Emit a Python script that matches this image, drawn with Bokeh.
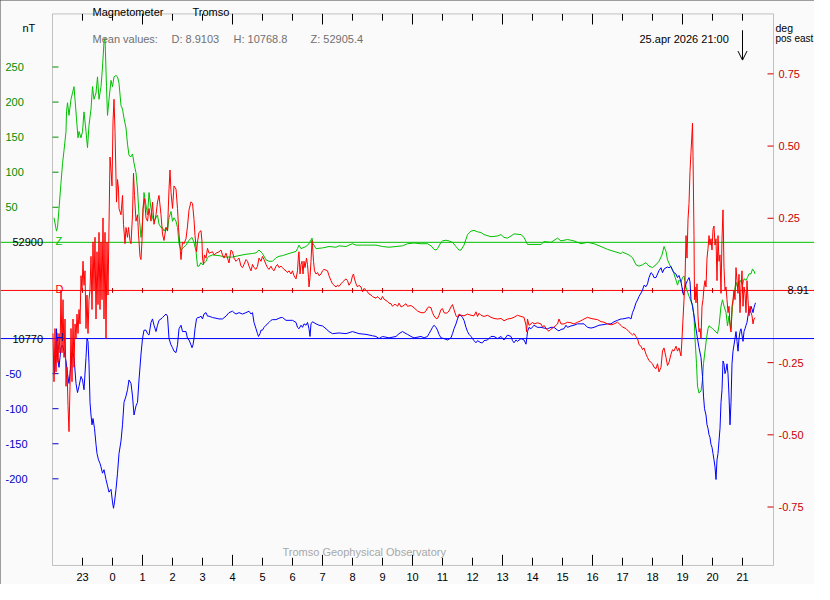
from bokeh.plotting import figure
from bokeh.models import Range1d, Span, Label, Arrow, OpenHead, BoxAnnotation
from bokeh.embed import file_html
from bokeh.resources import INLINE

# ---------------- data (time = minutes after 2026-04-24 22:00 UT) ----------------
z_t = [3, 8, 10, 13, 17, 20, 23, 27, 28, 30,
       33, 37, 40, 43, 45, 48, 51, 53, 57, 60,
       63, 67, 70, 73, 77, 80, 83, 87, 90, 93,
       97, 100, 103, 105, 108, 110, 113, 117, 120, 123,
       127, 130, 133, 137, 140, 143, 147, 150, 153, 157,
       160, 163, 167, 170, 173, 177, 180, 183, 187, 190,
       193, 197, 200, 203, 207, 210, 213, 217, 220, 223,
       227, 230, 233, 237, 240, 243, 247, 250, 253, 257,
       260, 267, 273, 279, 283, 287, 290, 293, 297, 300,
       307, 310, 313, 320, 333, 347, 360, 373, 387, 400,
       407, 413, 420, 427, 433, 440, 447, 453, 460, 473,
       487, 490, 493, 497, 507, 513, 519, 521, 527, 540,
       553, 567, 573, 587, 593, 600, 607, 620, 633, 647,
       660, 673, 687, 700,
       710, 723, 737, 750, 757, 763, 767, 770, 777, 780,
       787, 793, 800, 807, 813, 817, 823, 830, 837, 843,
       850, 857, 863, 877, 890, 897, 903, 910, 917, 923,
       937, 943, 950, 963, 977, 983, 997, 1010, 1017, 1030,
       1043, 1057, 1070, 1083, 1097, 1110, 1123, 1137,
       1140, 1153, 1160, 1167, 1173, 1180, 1187, 1193, 1200, 1207,
       1213, 1219, 1223, 1227, 1230, 1237, 1240, 1243, 1247, 1250,
       1253, 1257, 1260, 1263, 1267, 1273, 1280, 1283, 1285, 1288,
       1290, 1293, 1297, 1300, 1302, 1305, 1308, 1311, 1313, 1320,
       1327, 1330, 1333, 1337, 1340, 1343, 1347, 1350, 1353, 1357,
       1360, 1363, 1367, 1370, 1373, 1377, 1380, 1383, 1387, 1390,
       1393, 1397, 1400, 1403, 1405]
z_nT = [52935, 52916, 52921, 52948, 52985, 53012, 53031, 53058, 53086, 53099,
        53081, 53104, 53113, 53122, 53104, 53076, 53049, 53058, 53049, 53058,
        53086, 53058, 53035, 53067, 53090, 53122, 53104, 53113, 53136, 53104,
        53122, 53150, 53186, 53191, 53122, 53081, 53104, 53131, 53122, 53136,
        53138, 53136, 53127, 53095, 53090, 53077, 53063, 53040, 53024, 53022,
        53026, 53013, 52999, 52976, 52939, 52907, 52930, 52971, 52953, 52939,
        52971, 52948, 52935, 52930, 52935, 52939, 52926, 52921, 52921, 52916,
        52921, 52916, 52935, 52944, 52930, 52935, 52930, 52921, 52898, 52889,
        52891, 52896, 52903, 52907, 52900, 52887, 52866, 52866, 52871, 52868,
        52873, 52878, 52880, 52882, 52881, 52879, 52879, 52881, 52883, 52884,
        52885, 52889, 52884, 52875, 52873, 52873, 52878, 52880, 52881, 52884,
        52887, 52891, 52896, 52891, 52894, 52898, 52906, 52898, 52891, 52892,
        52894, 52893, 52895, 52894, 52896, 52898, 52896, 52896, 52896, 52896,
        52894, 52893, 52894, 52895,
        52898, 52899, 52898, 52898, 52895, 52890, 52889, 52891, 52900, 52902,
        52903, 52902, 52900, 52894, 52889, 52889, 52896, 52911, 52916, 52917,
        52915, 52914, 52911, 52908, 52909, 52911, 52907, 52906, 52909, 52912,
        52911, 52907, 52897, 52897, 52897, 52901, 52900, 52906, 52902, 52904,
        52902, 52898, 52900, 52898, 52894, 52890, 52887, 52884,
        52886, 52882, 52878, 52868, 52866, 52868, 52871, 52866, 52864, 52868,
        52873, 52882, 52894, 52887, 52875, 52864, 52862, 52855, 52846, 52839,
        52846, 52843, 52850, 52852, 52836, 52823, 52811, 52795, 52763, 52727,
        52695, 52685, 52688, 52704, 52727, 52745, 52763, 52777, 52781, 52777,
        52772, 52770, 52781, 52809, 52818, 52809, 52800, 52781, 52795, 52777,
        52809, 52827, 52843, 52836, 52841, 52846, 52839, 52848, 52846, 52850,
        52855, 52855, 52862, 52859, 52855]

d_t = [1, 3, 5, 7, 9, 11, 13, 15, 17, 19,
       21, 23, 25, 27, 29, 31, 33, 35, 37, 39,
       41, 43, 45, 47, 49, 51, 53, 55, 57, 59,
       61, 63, 65, 67, 69, 71, 73, 75, 77, 79,
       81, 83, 85, 87, 89, 91, 93, 95, 97, 99,
       101, 103, 105, 107, 109, 111,
       115, 117, 119, 121, 123, 125, 128, 130, 132, 133,
       137, 140, 142, 145, 147, 150, 152, 155, 157, 160,
       162, 164, 167, 170, 172, 175, 177, 179, 181, 184,
       187, 190, 193, 197, 200, 203, 207, 210, 213, 217,
       220, 223, 227, 230, 233, 235, 237, 240, 243, 247,
       250, 252, 255, 257,
       260, 263, 267, 270, 273, 277, 280, 283, 285, 288,
       290, 293, 297, 299, 300, 302, 304, 307, 310, 313,
       320, 323, 327, 333, 337, 340, 343, 347, 350, 353,
       357, 360, 363, 367, 370, 373, 377, 380, 383, 387,
       390, 393, 397, 400, 403, 407, 410, 413, 417, 420,
       423, 427, 430, 433, 437, 440, 443, 447, 450, 453,
       457, 460, 463, 467, 470, 473, 477, 480, 483, 487,
       490, 492, 493, 495, 497, 499, 501, 503, 505, 508,
       510, 512, 513, 515, 517, 519, 520, 522, 524, 527,
       530, 533, 537, 540, 543, 550, 553, 557, 560, 563,
       567, 570, 573, 577, 580, 583, 587, 590, 593, 597,
       600, 602, 604, 607, 610, 613, 617, 620, 623, 627,
       630, 633, 637, 640, 647, 650, 653, 657, 660, 663,
       667, 670, 673, 677, 680, 683, 687, 690, 693, 697,
       700, 707,
       710, 717, 723, 730, 737, 743, 747, 750, 753, 757,
       760, 763, 767, 770, 773, 777, 780, 783, 787, 790,
       793, 797, 800, 803, 807, 810, 813, 817, 823, 830,
       837, 843, 847, 850, 853, 857, 863, 870, 877, 883,
       890, 897, 903, 910, 917, 923, 930, 937, 943, 947,
       948, 950, 953, 957, 960, 963, 970, 977, 980, 983,
       990, 993, 997, 1003, 1010, 1013, 1017, 1023, 1030, 1037,
       1043, 1050, 1057, 1063, 1070, 1077, 1083, 1090, 1097, 1103,
       1110, 1117, 1123, 1130, 1137,
       1140, 1147, 1153, 1160, 1163, 1167, 1170, 1173, 1177, 1180,
       1183, 1187, 1190, 1193, 1197, 1200, 1203, 1207, 1210, 1213,
       1217, 1220, 1223, 1227, 1230, 1233, 1237, 1240, 1243, 1247,
       1250, 1253, 1257, 1259, 1261, 1263, 1265, 1267, 1269, 1271,
       1273, 1275, 1277, 1279, 1280, 1281, 1283, 1284, 1285, 1287,
       1289, 1291, 1293, 1295, 1297, 1299, 1301, 1303, 1305, 1307,
       1309, 1311, 1313, 1315, 1317, 1319, 1321, 1323, 1325, 1327,
       1329, 1331, 1333, 1335, 1337, 1339, 1341, 1343, 1345, 1347,
       1349, 1351, 1353, 1355, 1357, 1359, 1361, 1363, 1365, 1367,
       1369, 1371, 1373, 1375, 1377, 1379, 1381, 1383, 1385, 1387,
       1389, 1391, 1393, 1395, 1397, 1399, 1401, 1403, 1405]
d_deg = [8.761, 8.594, 8.778, 8.628, 8.744, 8.661, 8.761, 8.694, 8.911, 8.694,
         8.878, 8.678, 8.811, 8.578, 8.644, 8.511, 8.421, 8.578, 8.778, 8.594,
         8.811, 8.644, 8.794, 8.744, 8.828, 8.761, 8.844, 8.794, 8.961, 8.911,
         9.011, 8.928, 8.978, 8.778, 8.894, 8.761, 8.878, 8.911, 9.028, 8.844,
         9.078, 8.911, 9.094, 8.811, 9.044, 8.861, 9.111, 8.844, 9.078, 8.878,
         9.161, 8.811, 9.111, 8.744, 9.078, 8.894,
         9.372, 9.327, 9.272, 9.494, 9.572, 9.461, 9.216, 9.294, 9.261, 9.194,
         9.172, 9.239, 9.139, 9.072, 9.128, 9.094, 9.128, 9.083, 9.072, 9.172,
         9.316, 9.239, 9.150, 9.172, 9.105, 9.028, 9.017, 9.083, 9.194, 9.228,
         9.161, 9.150, 9.194, 9.150, 9.216, 9.139, 9.172, 9.216, 9.239, 9.172,
         9.105, 9.083, 9.128, 9.117, 9.261, 9.327, 9.250, 9.194, 9.272, 9.261,
         9.194, 9.128, 9.061, 9.017,
         9.078, 9.072, 9.089, 9.133, 9.189, 9.217, 9.211, 9.156, 9.100, 9.044,
         9.078, 9.111, 9.117, 9.078, 9.022, 9.000, 9.033, 9.022, 9.056, 9.039,
         9.044, 9.033, 9.039, 9.044, 9.050, 9.033, 9.022, 9.039, 9.022, 9.005,
         9.050, 9.044, 9.022, 9.011, 9.017, 9.022, 8.994, 8.989, 9.000, 9.017,
         9.011, 8.994, 8.978, 9.000, 8.989, 8.983, 8.994, 9.022, 9.011, 9.028,
         9.017, 9.000, 8.989, 8.983, 8.994, 8.983, 8.978, 8.994, 9.000, 8.989,
         8.994, 8.989, 8.983, 8.978, 8.972, 8.978, 8.967, 8.978, 8.961, 8.950,
         8.978, 9.033, 9.044, 8.967, 9.000, 9.011, 8.967, 9.011, 8.989, 9.022,
         9.000, 8.955, 8.922, 8.955, 9.011, 9.083, 9.067, 9.011, 8.978, 8.967,
         8.972, 8.961, 8.967, 8.978, 8.983, 8.978, 8.961, 8.944, 8.933, 8.928,
         8.922, 8.928, 8.924, 8.933, 8.939, 8.944, 8.950, 8.944, 8.928, 8.939,
         8.961, 8.967, 8.950, 8.933, 8.922, 8.928, 8.922, 8.905, 8.917, 8.911,
         8.905, 8.898, 8.894, 8.889, 8.883, 8.889, 8.883, 8.878, 8.889, 8.880,
         8.875, 8.872, 8.866, 8.864, 8.855, 8.861, 8.861, 8.855, 8.866, 8.853,
         8.855, 8.864,
         8.855, 8.858, 8.850, 8.839, 8.833, 8.833, 8.839, 8.850, 8.853, 8.850,
         8.833, 8.822, 8.813, 8.813, 8.824, 8.844, 8.847, 8.833, 8.831, 8.833,
         8.839, 8.853, 8.861, 8.844, 8.822, 8.817, 8.828, 8.824, 8.822, 8.828,
         8.824, 8.822, 8.836, 8.820, 8.831, 8.824, 8.820, 8.824, 8.817, 8.813,
         8.811, 8.813, 8.805, 8.811, 8.813, 8.817, 8.824, 8.820, 8.817, 8.789,
         8.767, 8.811, 8.789, 8.794, 8.800, 8.794, 8.798, 8.794, 8.783, 8.789,
         8.772, 8.769, 8.776, 8.783, 8.794, 8.811, 8.794, 8.794, 8.800, 8.798,
         8.794, 8.800, 8.805, 8.811, 8.817, 8.813, 8.811, 8.809, 8.802, 8.800,
         8.794, 8.791, 8.794, 8.800, 8.789,
         8.783, 8.778, 8.767, 8.756, 8.761, 8.750, 8.744, 8.722, 8.717, 8.705,
         8.711, 8.689, 8.678, 8.667, 8.661, 8.656, 8.644, 8.639, 8.656, 8.628,
         8.644, 8.700, 8.711, 8.678, 8.650, 8.661, 8.689, 8.705, 8.700, 8.717,
         8.700, 8.711, 8.683, 8.744, 8.811, 8.878, 8.944, 9.100, 9.022, 9.155,
         9.211, 9.322, 9.389, 9.455, 9.489, 9.378, 9.100, 8.878, 8.922, 8.867,
         8.933, 8.822, 8.766, 8.778, 8.744, 8.855, 8.878, 8.922, 8.944, 8.922,
         9.022, 9.055, 9.100, 9.067, 9.089, 9.050, 9.122, 9.133, 9.067, 9.089,
         8.944, 9.100, 9.011, 9.033, 8.900, 9.089, 9.189, 8.989, 8.911, 8.922,
         8.878, 8.833, 8.855, 8.789, 8.766, 8.855, 8.878, 8.911, 8.878, 8.989,
         8.944, 8.900, 8.966, 8.833, 8.922, 8.978, 8.855, 8.922, 8.900, 8.833,
         8.944, 8.878, 8.822, 8.855, 8.833, 8.822, 8.794, 8.811, 8.816]

h_t = [2, 4, 7, 8, 10, 13, 17, 20, 23, 27,
       30, 33, 37, 40, 43, 47, 50, 53, 57, 60,
       63, 67, 69, 71, 73, 75, 77, 79, 81, 84,
       87, 89, 92, 95, 97, 100, 103, 107, 110, 113,
       117, 120, 122, 124, 127, 130, 133, 137, 140, 143,
       147, 150, 153, 157, 160, 163, 167, 170, 173, 177,
       180, 183, 187, 190, 193, 197, 200, 203, 207, 210,
       213, 217, 220, 227, 230, 233, 237, 240, 243, 247,
       250, 253, 257,
       260, 267, 270, 273, 277, 279, 281, 283, 285, 288,
       290, 293, 297, 300, 303, 307, 310, 313, 320, 327,
       333, 340, 347, 353, 360, 363, 367, 373, 380, 387,
       393, 397, 400, 403, 407, 410, 412, 415, 417, 420,
       423, 427, 433, 437, 440, 447, 453, 457, 460, 467,
       473, 480, 487, 490, 493, 497, 500, 503, 507, 510,
       513, 515, 517, 520, 527, 533, 540, 547, 553, 560,
       573, 587, 600, 613, 627, 640, 647, 653, 660, 673,
       687, 693, 700, 707,
       710, 717, 723, 737, 743, 750, 753, 757, 760, 763,
       767, 770, 773, 777, 783, 790, 797, 800, 803, 807,
       810, 813, 817, 820, 823, 827, 830, 833, 837, 843,
       847, 850, 857, 860, 863, 870, 877, 883, 890, 897,
       903, 910, 917, 920, 923, 927, 930, 937, 943, 947,
       949, 950, 953, 957, 963, 970, 977, 983, 990, 997,
       1003, 1010, 1013, 1017, 1023, 1027, 1030, 1037, 1043, 1050,
       1063, 1070, 1077, 1083, 1093, 1103, 1110, 1117, 1123, 1130,
       1137,
       1140, 1147, 1153, 1157, 1160, 1163, 1167, 1170, 1173, 1177,
       1180, 1183, 1187, 1190, 1193, 1197, 1200, 1203, 1207, 1210,
       1213, 1217, 1220, 1223, 1227, 1230, 1233, 1237, 1240, 1243,
       1247, 1250, 1253, 1257, 1260, 1262, 1264, 1267, 1270, 1273,
       1275, 1277, 1280, 1282, 1284, 1287, 1290, 1293, 1297, 1300,
       1302, 1304, 1307, 1309, 1311, 1313, 1315, 1317, 1319, 1321,
       1323, 1325, 1327, 1329, 1331, 1333, 1335, 1337, 1339, 1341,
       1343, 1345, 1347, 1349, 1351, 1353, 1355, 1357, 1359, 1361,
       1363, 1365, 1367, 1369, 1371, 1373, 1375, 1377, 1379, 1381,
       1383, 1385, 1387, 1389, 1391, 1393, 1395, 1397, 1399, 1401,
       1403, 1405, 1406]
h_nT = [10743, 10720, 10752, 10784, 10743, 10729, 10757, 10761, 10752, 10738,
        10720, 10706, 10734, 10752, 10743, 10706, 10693, 10702, 10716, 10711,
        10697, 10743, 10770, 10766, 10734, 10679, 10661, 10647, 10656, 10642,
        10619, 10606, 10597, 10592, 10587, 10578, 10583, 10569, 10560, 10551,
        10555, 10537, 10528, 10537, 10555, 10578, 10606, 10624, 10647, 10679,
        10688, 10697, 10711, 10706, 10688, 10661, 10674, 10679, 10711, 10748,
        10770, 10782, 10782, 10777, 10775, 10793, 10798, 10789, 10780, 10789,
        10796, 10798, 10800, 10805, 10802, 10770, 10761, 10757, 10752, 10750,
        10761, 10784, 10789,
        10780, 10780, 10770, 10768, 10761, 10757, 10761, 10770, 10784, 10798,
        10800, 10800, 10802, 10798, 10805, 10807, 10802, 10802, 10800, 10799,
        10798, 10798, 10802, 10807, 10809, 10807, 10805, 10807, 10805, 10807,
        10809, 10805, 10807, 10793, 10784, 10777, 10773, 10777, 10782, 10782,
        10786, 10789, 10793, 10796, 10797, 10797, 10799, 10800, 10800, 10796,
        10796, 10796, 10793, 10786, 10784, 10789, 10786, 10791, 10789, 10793,
        10784, 10773, 10791, 10794, 10791, 10789, 10788, 10784, 10780, 10777,
        10778, 10777, 10780, 10777, 10776, 10774, 10773, 10770, 10773, 10771,
        10773, 10777, 10780, 10777,
        10776, 10773, 10771, 10773, 10771, 10773, 10777, 10782, 10786, 10789,
        10786, 10782, 10776, 10771, 10770, 10768, 10771, 10777, 10784, 10791,
        10798, 10803, 10803, 10800, 10796, 10786, 10780, 10776, 10773, 10767,
        10764, 10767, 10764, 10764, 10767, 10768, 10773, 10773, 10770, 10773,
        10768, 10775, 10773, 10767, 10764, 10768, 10766, 10770, 10768, 10762,
        10773, 10780, 10786, 10784, 10789, 10786, 10786, 10785, 10784, 10786,
        10786, 10782, 10781, 10783, 10784, 10789, 10786, 10788, 10789, 10791,
        10791, 10786, 10785, 10786, 10789, 10790, 10791, 10791, 10794, 10796,
        10798,
        10798, 10799, 10800, 10798, 10807, 10812, 10821, 10825, 10830, 10835,
        10839, 10846, 10844, 10848, 10857, 10864, 10862, 10857, 10857, 10862,
        10867, 10871, 10864, 10869, 10871, 10872, 10871, 10873, 10867, 10864,
        10862, 10857, 10860, 10851, 10839, 10832, 10839, 10848, 10853, 10857,
        10851, 10825, 10816, 10807, 10798, 10784, 10770, 10757, 10743, 10716,
        10688, 10670, 10661, 10647, 10642, 10633, 10629, 10619, 10615, 10606,
        10597, 10587, 10569, 10597, 10606, 10624, 10642, 10679, 10697, 10738,
        10734, 10720, 10725, 10734, 10720, 10688, 10647, 10679, 10734, 10752,
        10761, 10770, 10780, 10766, 10752, 10770, 10780, 10784, 10775, 10766,
        10780, 10784, 10789, 10793, 10803, 10812, 10807, 10816, 10812, 10807,
        10814, 10819, 10821]

# baselines, ticks and labels
z_base, h_base, d_base = 52900, 10770, 8.91
mean_D, mean_H, mean_Z = "8.9103", "10768.8", "52905.4"
z_tick_offsets = [50, 100, 150, 200, 250]
h_tick_offsets = [-50, -100, -150, -200]
d_tick_offsets = [-0.75, -0.50, -0.25, 0.25, 0.50, 0.75]
hour_ticks = [60 * k for k in range(1, 24)]          # 23:00 ... 21:00
hour_labels = ["23"] + [str(k) for k in range(0, 22)]
long_ticks = [60 * k for k in range(3, 24, 3)]        # 01, 04, ... 19 h
arrow_time = 1380                                      # 21:00

# ---------------- layout geometry (pixels of the original picture) ----------------
FR_TOP, FR_BOTTOM, FR_LEFT, FR_RIGHT = 13.0, 586.0, 60.0, 781.0
VIEW_TOP, VIEW_BOTTOM, VIEW_LEFT, VIEW_RIGHT = -0.929, 605.8, 8.0, 822.0
NT_PER_PX = 1 / 0.7285
DEG_PER_PX = 1 / 300.0
Z_Y, D_Y, H_Y = 250.3, 300.3, 350.3

def tval(x): return (x - FR_LEFT) * 2.0
def zval(y): return z_base + (Z_Y - y) * NT_PER_PX
def hval(y): return h_base + (H_Y - y) * NT_PER_PX
def dval(y): return d_base + (D_Y - y) * DEG_PER_PX

BG = "#fafafa"
FRAME = "#404040"
GREEN, GREEN_TXT = "#00c000", "#008c00"
RED, RED_TXT = "#ff0000", "#c80000"
BLUE, BLUE_TXT = "#0000ff", "#0000c8"
FONT, FS = "Liberation Sans", "11px"

p = figure(width=814, height=584,
           x_range=Range1d(tval(VIEW_LEFT), tval(VIEW_RIGHT)),
           y_range=Range1d(zval(VIEW_BOTTOM), zval(VIEW_TOP)),
           x_axis_type=None, y_axis_type=None,
           output_backend="svg", toolbar_location=None,
           min_border=0, background_fill_color=BG, border_fill_color=BG,
           outline_line_color=None)
p.styles = {"outline": "1px solid #404040", "outline-offset": "-1px"}
p.extra_y_ranges = {"H": Range1d(hval(VIEW_BOTTOM), hval(VIEW_TOP)),
                    "D": Range1d(dval(VIEW_BOTTOM), dval(VIEW_TOP))}

# plot box
p.add_layout(BoxAnnotation(left=tval(FR_LEFT), right=tval(FR_RIGHT), top=zval(FR_TOP),
                           bottom=zval(FR_BOTTOM), fill_alpha=0, line_color=FRAME,
                           line_width=1, level="underlay"))

# baselines
p.add_layout(Span(location=z_base, dimension="width", line_color=GREEN, line_width=1, level="underlay"))
p.add_layout(Span(location=d_base, dimension="width", line_color=RED, line_width=1, level="underlay",
                  y_range_name="D"))
p.add_layout(Span(location=h_base, dimension="width", line_color=BLUE, line_width=1, level="underlay",
                  y_range_name="H"))

# tick marks (time axis: bottom and top, short hourly, long every 3 h)
n, m = len(hour_ticks), len(long_ticks)
p.segment(hour_ticks, [zval(FR_BOTTOM)] * n, hour_ticks, [zval(FR_BOTTOM - 8)] * n, line_color="black")
p.segment(long_ticks, [zval(FR_BOTTOM)] * m, long_ticks, [zval(FR_BOTTOM - 11)] * m, line_color="black")
p.segment(hour_ticks, [zval(FR_TOP)] * n, hour_ticks, [zval(FR_TOP + 7)] * n, line_color="black")
p.segment(long_ticks, [zval(FR_TOP)] * m, long_ticks, [zval(FR_TOP + 11)] * m, line_color="black")
# hourly marks on the D baseline
p.segment(hour_ticks, [dval(D_Y - 2.5)] * n, hour_ticks, [dval(D_Y + 2.5)] * n,
          line_color="#b00000", y_range_name="D")
# value-axis ticks
zt = [z_base + v for v in z_tick_offsets]
ht = [h_base + v for v in h_tick_offsets]
dt = [d_base + v for v in d_tick_offsets]
p.segment([tval(FR_LEFT)] * len(zt), zt, [tval(FR_LEFT + 6)] * len(zt), zt, line_color=GREEN_TXT)
p.segment([tval(FR_LEFT)] * len(ht), ht, [tval(FR_LEFT + 6)] * len(ht), ht, line_color=BLUE_TXT,
          y_range_name="H")
p.segment([tval(FR_RIGHT - 6)] * len(dt), dt, [tval(FR_RIGHT)] * len(dt), dt, line_color=RED_TXT,
          y_range_name="D")

# traces
p.line(z_t, z_nT, line_color=GREEN, line_width=1)
p.line(h_t, h_nT, line_color=BLUE, line_width=1, y_range_name="H")
p.line(d_t, d_deg, line_color=RED, line_width=1, y_range_name="D")

def lab(x, y, text, color="black", rng="default", baseline="alphabetic", align="left", size=FS):
    p.add_layout(Label(x=x, y=y, text=text, text_color=color, text_font=FONT, text_font_size=size,
                       text_baseline=baseline, text_align=align, y_range_name=rng))

for v in z_tick_offsets:
    lab(tval(13), z_base + v, str(v), GREEN_TXT, baseline="middle")
for v in h_tick_offsets:
    lab(tval(13), h_base + v, str(v), BLUE_TXT, rng="H", baseline="middle")
for v in d_tick_offsets:
    lab(tval(786), d_base + v, f"{v:.2f}", RED_TXT, rng="D", baseline="middle")
lab(tval(20), z_base, str(z_base), baseline="middle")
lab(tval(20), h_base, str(h_base), rng="H", baseline="middle")
lab(tval(795), d_base, f"{d_base:.2f}", rng="D", baseline="middle")
for t, s in zip(hour_ticks, hour_labels):
    lab(t, zval(597.5), s, align="center")

lab(tval(30), zval(28), "nT")
lab(tval(100), zval(10.5), "Magnetometer")
lab(tval(200), zval(10.5), "Tromso")
lab(tval(100), zval(38.7), "Mean values:", "#707070")
lab(tval(179), zval(38.7), "D: " + mean_D, "#707070")
lab(tval(241), zval(38.7), "H: " + mean_H, "#707070")
lab(tval(318), zval(38.7), "Z: " + mean_Z, "#707070")
lab(tval(647), zval(38.7), "25.apr 2026 21:00")
lab(tval(783), zval(27.5), "deg", size="10.5px")
lab(tval(783), zval(39), "pos east", size="10px")
lab(tval(63), zval(248.5), "Z", GREEN)
lab(tval(63), dval(298.5), "D", RED, rng="D")
lab(tval(63), hval(348.5), "H", BLUE, rng="H")
lab(tval(290), zval(572.5), "Tromso Geophysical Observatory", "#a8a8a8")

p.add_layout(Arrow(end=OpenHead(size=9, line_color="black", line_width=1),
                   x_start=arrow_time, y_start=zval(30), x_end=arrow_time, y_end=zval(61),
                   line_color="black", line_width=1))

open("out.html", "w").write(file_html(p, INLINE))
